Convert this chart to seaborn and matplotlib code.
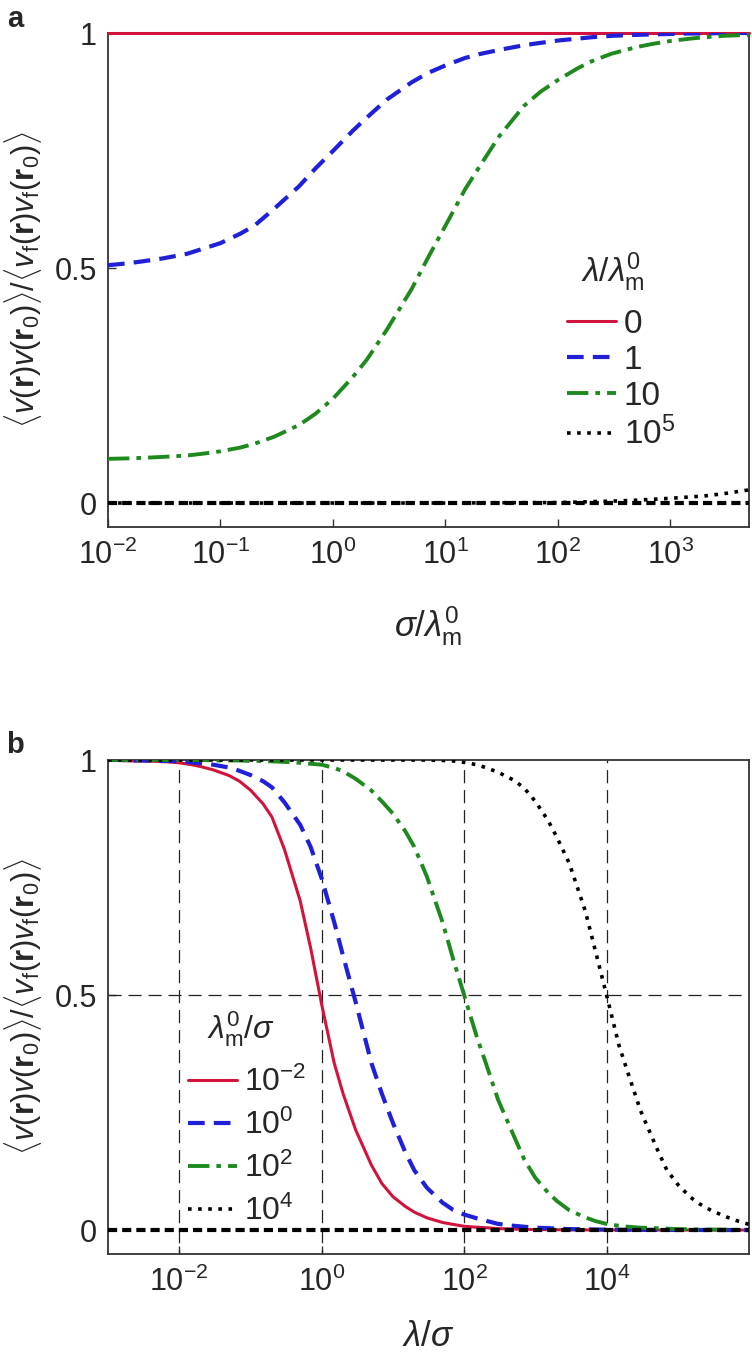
import numpy as np
import pandas as pd
import matplotlib
matplotlib.use("Agg")
import matplotlib.pyplot as plt
import seaborn as sns

# ---------------- data ----------------
# Panel a: x = sigma / lambda_m^0
sigma_a = [0.01, 0.015, 0.02, 0.03, 0.05, 0.07, 0.1, 0.15, 0.2, 0.3, 0.5, 0.7,
           1, 1.5, 2, 3, 5, 7, 10, 15, 20, 30, 50, 70, 100, 150, 200, 300, 500, 700,
           1000, 1500, 2000, 3000, 5000]
a_lam0 = [1.0] * 35
a_lam1 = [0.506, 0.51, 0.514, 0.52, 0.53, 0.541, 0.553, 0.573, 0.59, 0.626, 0.674, 0.712,
          0.749, 0.792, 0.82, 0.858, 0.895, 0.915, 0.931, 0.947, 0.955, 0.964, 0.974, 0.979,
          0.984, 0.988, 0.991, 0.994, 0.996, 0.997, 0.998, 0.999, 0.999, 1.0, 1.0]
a_lam10 = [0.094, 0.095, 0.096, 0.098, 0.101, 0.105, 0.11, 0.118, 0.126, 0.141, 0.166, 0.19,
           0.222, 0.268, 0.305, 0.368, 0.455, 0.522, 0.59, 0.668, 0.715, 0.78, 0.845, 0.875,
           0.9, 0.925, 0.94, 0.956, 0.97, 0.977, 0.983, 0.988, 0.991, 0.994, 0.996]
a_lam1e5 = [0.0] * 18 + [0.0, 0.0, 0.0005, 0.0007, 0.0008, 0.0009, 0.001, 0.002, 0.003,
                         0.004, 0.006, 0.008, 0.01, 0.013, 0.015, 0.02, 0.028]
labels_a = ["0", "1", "10", r"$10^5$"]
title_a = r"$\lambda/\lambda_\mathrm{m}^0$"
xticks_a = [1e-2, 1e-1, 1e0, 1e1, 1e2, 1e3]

# Panel b: x = lambda / sigma
lam_b = [0.001, 0.0015, 0.002, 0.003, 0.005, 0.007,
         0.01, 0.015, 0.02, 0.03, 0.05, 0.07,
         0.1, 0.15, 0.2, 0.3, 0.5, 0.7,
         1, 1.5, 2, 3, 5, 7,
         10, 15, 20, 30, 50, 70,
         100, 150, 200, 300, 500, 700,
         1000, 1500, 2000, 3000, 5000, 7000,
         1e4, 1.5e4, 2e4, 3e4, 5e4, 7e4,
         1e5, 1.5e5, 2e5, 3e5, 5e5, 7e5,
         1e6]
b_m1em2 = [0.999, 0.999, 0.998, 0.998, 0.997, 0.996,
           0.994, 0.99, 0.986, 0.979, 0.967, 0.955,
           0.936, 0.907, 0.879, 0.81, 0.70, 0.60,
           0.48, 0.355, 0.29, 0.213, 0.138, 0.099,
           0.071, 0.05, 0.038, 0.026, 0.016, 0.012,
           0.008, 0.006, 0.005, 0.003, 0.002, 0.0015,
           0.001, 0.0008, 0.0006, 0.0005, 0.0003, 0.0002,
           0.0002, 0.0001, 0.0001, 0.0001, 0, 0,
           0, 0, 0, 0, 0, 0, 0]
b_m1e0 = [1.0, 1.0, 0.999, 0.999, 0.998, 0.998,
          0.997, 0.995, 0.993, 0.99, 0.984, 0.977,
          0.968, 0.955, 0.942, 0.91, 0.862, 0.815,
          0.748, 0.655, 0.583, 0.485, 0.355, 0.29,
          0.228, 0.165, 0.127, 0.09, 0.058, 0.043,
          0.033, 0.025, 0.02, 0.013, 0.009, 0.007,
          0.005, 0.004, 0.003, 0.002, 0.0015, 0.001,
          0.001, 0.0007, 0.0005, 0.0004, 0.0003, 0.0002,
          0.0001, 0.0001, 0.0001, 0, 0, 0, 0]
b_m1e2 = [1, 1, 1, 1, 1, 1,
          1, 1, 1, 0.999, 0.999, 0.999,
          0.998, 0.998, 0.997, 0.996, 0.994, 0.992,
          0.99, 0.983, 0.976, 0.96, 0.935, 0.912,
          0.886, 0.848, 0.815, 0.752, 0.654, 0.577,
          0.5, 0.412, 0.357, 0.277, 0.2, 0.15,
          0.111, 0.08, 0.062, 0.042, 0.027, 0.019,
          0.013, 0.009, 0.007, 0.005, 0.004, 0.003,
          0.002, 0.0015, 0.001, 0.001, 0.0007, 0.0005,
          0.0004]
b_m1e4 = [1] * 24 + [1, 1, 1, 1, 0.999, 0.998,
                     0.995, 0.99, 0.984, 0.974, 0.957, 0.94,
                     0.912, 0.872, 0.836, 0.78, 0.68, 0.593,
                     0.5, 0.392, 0.334, 0.254, 0.176, 0.128,
                     0.097, 0.07, 0.056, 0.041, 0.027, 0.019,
                     0.012]
labels_b = [r"$10^{-2}$", r"$10^0$", r"$10^2$", r"$10^4$"]
title_b = r"$\lambda_\mathrm{m}^0/\sigma$"
xticks_b = [1e-2, 1e0, 1e2, 1e4]
yticks = [0, 0.5, 1]
yticklabels = ["0", "0.5", "1"]

# ---------------- style ----------------
sns.set_theme(style="white")
plt.rcParams["font.family"] = ["Liberation Sans", "DejaVu Sans"]
plt.rcParams.update({
    "mathtext.fontset": "custom",
    "mathtext.rm": "Liberation Sans",
    "mathtext.it": "Liberation Sans:italic",
    "mathtext.bf": "Liberation Sans:bold",
    "mathtext.sf": "Liberation Sans",
    "axes.unicode_minus": True,
})

RED = "#D2143C"
BLUE = "#2020D8"
GREEN = "#1E8A1E"
BLACK = "#000000"
styles = [
    dict(color=RED, lw=2.2, ls="-"),
    dict(color=BLUE, lw=3.0, ls=(0, (4, 2.2))),
    dict(color=GREEN, lw=2.8, ls=(0, (5.5, 1.8, 1.2, 1.8))),
    dict(color=BLACK, lw=2.6, ls=(0, (1, 1.8))),
]

W, H = 752, 1356
fig = plt.figure(figsize=(W / 100, H / 100), dpi=100)
ax_a = fig.add_axes([108 / W, 1 - 527 / H, 641 / W, 494 / H])
ax_b = fig.add_axes([108 / W, 1 - 1254 / H, 641 / W, 494 / H])

FS = 22
YLAB_FS = 20
ylab = (r"$\langle v(\mathbf{r})v(\mathbf{r}_0)\rangle/"
        r"\langle v_\mathrm{f}(\mathbf{r})v_\mathrm{f}(\mathbf{r}_0)\rangle$")


def style_axes(ax):
    for s in ax.spines.values():
        s.set_visible(True)
        s.set_color("#333333")
        s.set_linewidth(1.3)
    ax.set_xscale("log")
    ax.minorticks_off()
    ax.tick_params(axis="both", which="both", direction="in", length=6, width=1.0,
                   color="#333333", labelsize=FS, top=False, right=False,
                   bottom=True, left=True)
    ax.tick_params(axis="x", pad=9)
    ax.tick_params(axis="y", pad=8)
    ax.set_ylim(-0.051, 1.0)
    ax.set_yticks(yticks)
    ax.set_yticklabels(yticklabels)
    ax.set_ylabel(ylab, fontsize=YLAB_FS)
    ax.yaxis.set_label_coords(-0.118, 0.5)
    ax.grid(False)


# ---------------- panel a ----------------
series_a = [a_lam0, a_lam1, a_lam10, a_lam1e5]
handles_a = []
for ys, st, lab in zip(series_a, styles, labels_a):
    sns.lineplot(x=sigma_a, y=ys, ax=ax_a, color=st["color"], lw=st["lw"],
                 ls=st["ls"], label=lab, zorder=3)
    handles_a.append(ax_a.lines[-1])
ax_a.lines[0].set_clip_on(False)
ax_a.axhline(0, color="black", lw=3.0, ls=(0, (2.2, 1.2)), zorder=4)
style_axes(ax_a)
ax_a.set_xlim(1e-2, 5000)
ax_a.set_xticks(xticks_a)
ax_a.minorticks_off()
ax_a.set_xlabel(r"$\sigma/\lambda_\mathrm{m}^0$", fontsize=25)
ax_a.xaxis.set_label_coords(0.5, -0.155)
ax_a.legend(handles_a, labels_a, frameon=False, fontsize=24,
            handlelength=1.48, handletextpad=0.22,
            labelspacing=0.15, borderpad=0, borderaxespad=0,
            loc="upper left", bbox_to_anchor=(567 / W, 1 - 309 / H),
            bbox_transform=fig.transFigure)
fig.text(613 / W, 1 - 272 / H, title_a, fontsize=24, ha="center", va="center")

# ---------------- panel b ----------------
for xv in xticks_b:
    ax_b.axvline(xv, color="#222222", lw=0.9, ls=(7, (10.5, 5.5)), zorder=1)
ax_b.axhline(0.5, color="#222222", lw=0.9, ls=(0, (10.5, 5.5)), zorder=1)
series_b = [b_m1em2, b_m1e0, b_m1e2, b_m1e4]
handles_b = []
for ys, st, lab in zip(series_b, styles, labels_b):
    sns.lineplot(x=lam_b, y=ys, ax=ax_b, color=st["color"], lw=st["lw"],
                 ls=st["ls"], label=lab, zorder=3)
    handles_b.append(ax_b.lines[-1])
ax_b.axhline(0, color="black", lw=3.0, ls=(0, (2.2, 1.2)), zorder=4)
style_axes(ax_b)
ax_b.set_xlim(1e-3, 1e6)
ax_b.set_xticks(xticks_b)
ax_b.minorticks_off()
ax_b.set_xlabel(r"$\lambda/\sigma$", fontsize=25)
ax_b.xaxis.set_label_coords(0.5, -0.152)
ax_b.legend(handles_b, labels_b, frameon=False, fontsize=23,
            handlelength=1.53, handletextpad=0.22,
            labelspacing=0.36, borderpad=0, borderaxespad=0,
            loc="upper left", bbox_to_anchor=(188 / W, 1 - 1067 / H),
            bbox_transform=fig.transFigure)
fig.text(241 / W, 1 - 1029 / H, title_b, fontsize=23, ha="center", va="center")

fig.text(15 / W, 1 - 19 / H, "a", fontsize=21, fontweight="bold", ha="center", va="center")
fig.text(15 / W, 1 - 745 / H, "b", fontsize=21, fontweight="bold", ha="center", va="center")

# fit the y-label length to the reference (~297 px long) and keep it inside the figure
fig.canvas.draw()
renderer = fig.canvas.get_renderer()
for ax in (ax_a, ax_b):
    lab = ax.yaxis.label
    bb = lab.get_window_extent(renderer)
    lab.set_fontsize(YLAB_FS * 297.0 / bb.height)
fig.canvas.draw()
for ax in (ax_a, ax_b):
    lab = ax.yaxis.label
    bb = lab.get_window_extent(renderer)
    right = 32.0
    if bb.x0 < 2:
        right = 32.0 + (2 - bb.x0) + (bb.x1 - (108 - 0.118 * 641)) * 0
        right = bb.x1 + (2 - bb.x0) if bb.x1 + (2 - bb.x0) > 32 else 32.0
    ax.yaxis.set_label_coords((right - 108) / 641, 0.5)
# keep the lower x-label inside the figure
lab = ax_b.xaxis.label
bb = lab.get_window_extent(renderer)
if bb.y0 < 3:
    ax_b.xaxis.set_label_coords(0.5, -0.152 + (3 - bb.y0) / 494)

fig.savefig("out.png", dpi=100)
